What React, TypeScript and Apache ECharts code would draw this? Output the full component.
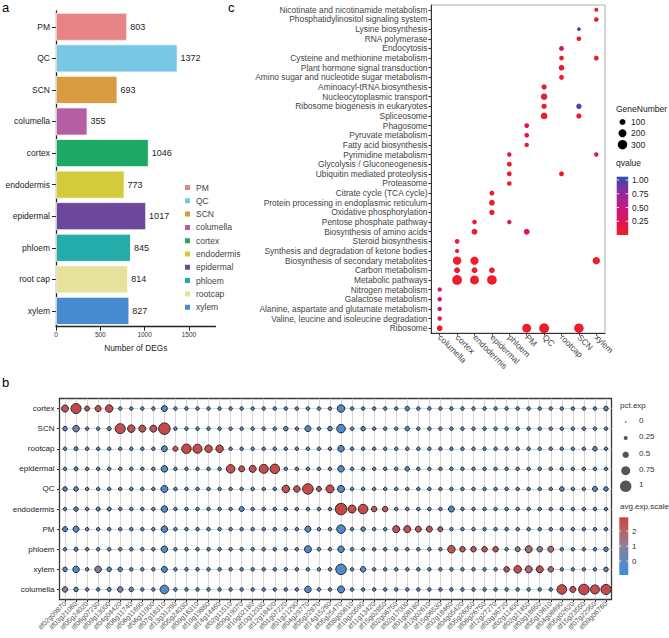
import { useEffect, useRef } from 'react';
import * as echarts from 'echarts';

const FONT = '"Liberation Sans", Arial, Helvetica, sans-serif';

// ---------------- Panel a: number of DEGs ----------------
const degCategories = ['PM', 'QC', 'SCN', 'columella', 'cortex', 'endodermis', 'epidermal', 'phloem', 'root cap', 'xylem'];
const degLegendNames = ['PM', 'QC', 'SCN', 'columella', 'cortex', 'endodermis', 'epidermal', 'phloem', 'rootcap', 'xylem'];
const degCounts = [803, 1372, 693, 355, 1046, 773, 1017, 845, 814, 827];
const degColors = ['#E88485', '#78C7E5', '#D89B40', '#B45EA3', '#1DA866', '#D3CB3B', '#6B489B', '#24ADA8', '#E6E29C', '#468BD0'];
const degTicks = [0, 500, 1000, 1500];

// ---------------- Panel c: KEGG enrichment ----------------
const keggCells = ['columella', 'cortex', 'endodermis', 'epidermal', 'phloem', 'PM', 'QC', 'rootcap', 'SCN', 'xylem'];
const keggPathways = [
  'Nicotinate and nicotinamide metabolism',
  'Phosphatidylinositol signaling system',
  'Lysine biosynthesis',
  'RNA polymerase',
  'Endocytosis',
  'Cysteine and methionine metabolism',
  'Plant hormone signal transduction',
  'Amino sugar and nucleotide sugar metabolism',
  'Aminoacyl-tRNA biosynthesis',
  'Nucleocytoplasmic transport',
  'Ribosome biogenesis in eukaryotes',
  'Spliceosome',
  'Phagosome',
  'Pyruvate metabolism',
  'Fatty acid biosynthesis',
  'Pyrimidine metabolism',
  'Glycolysis / Gluconeogenesis',
  'Ubiquitin mediated proteolysis',
  'Proteasome',
  'Citrate cycle (TCA cycle)',
  'Protein processing in endoplasmic reticulum',
  'Oxidative phosphorylation',
  'Pentose phosphate pathway',
  'Biosynthesis of amino acids',
  'Steroid biosynthesis',
  'Synthesis and degradation of ketone bodies',
  'Biosynthesis of secondary metabolites',
  'Carbon metabolism',
  'Metabolic pathways',
  'Nitrogen metabolism',
  'Galactose metabolism',
  'Alanine, aspartate and glutamate metabolism',
  'Valine, leucine and isoleucine degradation',
  'Ribosome',
];
// [pathway index, cell type, GeneNumber, qvalue]
const keggHits: [number, string, number, number][] = [
  [0, 'xylem', 25, 0.03],
  [1, 'xylem', 45, 0.03],
  [2, 'SCN', 20, 1.0],
  [3, 'SCN', 45, 0.04],
  [4, 'rootcap', 55, 0.33],
  [5, 'rootcap', 50, 0.03],
  [5, 'xylem', 55, 0.03],
  [6, 'rootcap', 85, 0.02],
  [7, 'rootcap', 60, 0.03],
  [8, 'QC', 70, 0.02],
  [9, 'QC', 120, 0.02],
  [10, 'QC', 70, 0.02],
  [10, 'SCN', 75, 0.97],
  [11, 'QC', 130, 0.02],
  [11, 'SCN', 70, 0.03],
  [12, 'PM', 50, 0.2],
  [13, 'PM', 50, 0.2],
  [14, 'PM', 40, 0.08],
  [15, 'phloem', 40, 0.2],
  [15, 'xylem', 40, 0.2],
  [16, 'phloem', 55, 0.05],
  [17, 'phloem', 55, 0.05],
  [17, 'rootcap', 60, 0.04],
  [18, 'phloem', 45, 0.05],
  [19, 'epidermal', 60, 0.03],
  [20, 'epidermal', 90, 0.02],
  [21, 'epidermal', 70, 0.03],
  [22, 'endodermis', 45, 0.04],
  [22, 'phloem', 40, 0.28],
  [23, 'endodermis', 95, 0.02],
  [23, 'PM', 95, 0.2],
  [24, 'cortex', 50, 0.03],
  [25, 'cortex', 35, 0.04],
  [26, 'cortex', 230, 0.01],
  [26, 'endodermis', 210, 0.01],
  [26, 'xylem', 170, 0.02],
  [27, 'cortex', 95, 0.02],
  [27, 'endodermis', 95, 0.02],
  [27, 'epidermal', 90, 0.02],
  [28, 'cortex', 320, 0.01],
  [28, 'endodermis', 260, 0.01],
  [28, 'epidermal', 310, 0.01],
  [29, 'columella', 40, 0.45],
  [30, 'columella', 40, 0.45],
  [31, 'columella', 40, 0.4],
  [32, 'columella', 40, 0.1],
  [33, 'columella', 90, 0.02],
  [33, 'PM', 260, 0.01],
  [33, 'QC', 330, 0.01],
  [33, 'SCN', 300, 0.01],
];
const geneLegendValues = [100, 200, 300];
const qLegendTicks = [0.25, 0.5, 0.75, 1.0];
const qMin = 0;
const qMax = 1.06;
const qColors = ['#EE1D27', '#DC1557', '#BF1B86', '#8A2E9C', '#2C4FAE'];

// ---------------- Panel b: marker gene dot plot ----------------
const markerRows = ['cortex', 'SCN', 'rootcap', 'epidermal', 'QC', 'endodermis', 'PM', 'phloem', 'xylem', 'columella'];
const markerGenes = [
  'itf02g09870', 'itf03g21060', 'itf05g24020', 'itf06g07230', 'itf09g13000',
  'itf04g04420', 'itf06g11740', 'itf06g11690', 'itf06g11900', 'itf07g18310',
  'itf13g31290', 'itf05g24030', 'itf09g16310', 'itf10g19860', 'itf14g14460',
  'itf02g11510', 'itf09g19070', 'itf10g02180', 'itf10g12030', 'itf12g18420',
  'itf01g07220', 'itf01g21290', 'itf04g29770', 'itf05g22870', 'itf14g15260',
  'itf05g25470', 'itf08g00610', 'itf10g20590', 'itf11g13420', 'itf15g02850',
  'itf02g06750', 'itf02g17000', 'itf01g08180', 'itf12g02610', 'itf15g06530',
  'itf02g18460', 'itf04g05420', 'itf05g26050', 'itf06g26750', 'itf12g27270',
  'itf03g36720', 'itf02g11400', 'itf02g21450', 'itf03g18650', 'itf05g19610',
  'itf04g08690', 'itf05g02620', 'itf15g23550', 'itf07g22950', 'itf09g06760',
];
const pctCortex = [0.55, 0.85, 0.35, 0.45, 0.6, 0.2, 0.2, 0.2, 0.2, 0.45, 0.2, 0.2, 0.2, 0.2, 0.2, 0.2, 0.2, 0.2, 0.2, 0.2, 0.2, 0.2, 0.2, 0.2, 0.2, 0.6, 0.2, 0.2, 0.2, 0.2, 0.2, 0.3, 0.2, 0.2, 0.2, 0.2, 0.2, 0.2, 0.2, 0.2, 0.2, 0.2, 0.2, 0.2, 0.2, 0.2, 0.2, 0.2, 0.2, 0.3];
const avgCortex = [2.5, 2.8, 2.4, 2.5, 2.6, -0.5, -0.5, -0.5, -0.5, -0.4, -0.5, -0.5, -0.5, -0.5, -0.5, -0.5, -0.5, -0.5, -0.5, -0.5, -0.5, -0.5, -0.5, -0.5, -0.5, -0.4, -0.5, -0.5, -0.5, -0.5, -0.5, -0.4, -0.5, -0.5, -0.5, -0.5, -0.5, -0.5, -0.5, -0.5, -0.5, -0.5, -0.5, -0.5, -0.5, -0.5, -0.5, -0.5, -0.5, -0.4];
const pctSCN = [0.3, 0.5, 0.2, 0.2, 0.25, 0.85, 0.6, 0.55, 0.55, 1.0, 0.2, 0.2, 0.2, 0.2, 0.2, 0.2, 0.2, 0.2, 0.2, 0.2, 0.3, 0.2, 0.45, 0.2, 0.3, 0.7, 0.2, 0.3, 0.2, 0.2, 0.2, 0.3, 0.2, 0.2, 0.2, 0.2, 0.2, 0.2, 0.2, 0.2, 0.2, 0.2, 0.2, 0.2, 0.2, 0.2, 0.2, 0.2, 0.2, 0.2];
const avgSCN = [-0.4, 0.3, -0.5, -0.5, -0.5, 2.6, 2.5, 2.5, 2.5, 2.7, -0.5, -0.5, -0.5, -0.5, -0.5, -0.5, -0.5, -0.5, -0.5, -0.5, -0.4, -0.5, -0.4, -0.5, -0.4, -0.4, -0.5, -0.4, -0.5, -0.5, -0.5, -0.4, -0.5, -0.5, -0.5, -0.5, -0.5, -0.5, -0.5, -0.5, -0.5, -0.5, -0.5, -0.5, -0.5, -0.5, -0.5, -0.5, -0.5, -0.5];
const pctRootcap = [0.2, 0.25, 0.2, 0.2, 0.2, 0.2, 0.2, 0.2, 0.2, 0.45, 0.35, 0.8, 0.75, 0.6, 0.6, 0.2, 0.2, 0.2, 0.2, 0.2, 0.2, 0.2, 0.2, 0.2, 0.2, 0.5, 0.2, 0.2, 0.2, 0.2, 0.2, 0.2, 0.2, 0.2, 0.2, 0.2, 0.2, 0.2, 0.2, 0.2, 0.2, 0.2, 0.2, 0.2, 0.2, 0.2, 0.2, 0.2, 0.3, 0.2];
const avgRootcap = [-0.5, -0.5, -0.5, -0.5, -0.5, -0.5, -0.5, -0.5, -0.5, -0.4, 2.4, 2.7, 2.6, 2.5, 2.6, -0.5, -0.5, -0.5, -0.5, -0.5, -0.5, -0.5, -0.5, -0.5, -0.5, -0.4, -0.5, -0.5, -0.5, -0.5, -0.5, -0.5, -0.5, -0.5, -0.5, -0.5, -0.5, -0.5, -0.5, -0.5, -0.5, -0.5, -0.5, -0.5, -0.5, -0.5, -0.5, -0.5, -0.4, -0.5];
const pctEpidermal = [0.2, 0.25, 0.2, 0.2, 0.2, 0.2, 0.2, 0.2, 0.2, 0.5, 0.2, 0.2, 0.2, 0.2, 0.2, 0.7, 0.45, 0.55, 0.75, 0.8, 0.2, 0.2, 0.2, 0.2, 0.2, 0.5, 0.2, 0.2, 0.2, 0.2, 0.2, 0.3, 0.2, 0.2, 0.2, 0.2, 0.2, 0.2, 0.2, 0.2, 0.2, 0.2, 0.2, 0.2, 0.2, 0.2, 0.2, 0.2, 0.2, 0.2];
const avgEpidermal = [-0.5, -0.5, -0.5, -0.5, -0.5, -0.5, -0.5, -0.5, -0.5, -0.4, -0.5, -0.5, -0.5, -0.5, -0.5, 2.6, 2.4, 2.5, 2.7, 2.7, -0.5, -0.5, -0.5, -0.5, -0.5, -0.4, -0.5, -0.5, -0.5, -0.5, -0.5, -0.4, -0.5, -0.5, -0.5, -0.5, -0.5, -0.5, -0.5, -0.5, -0.5, -0.5, -0.5, -0.5, -0.5, -0.5, -0.5, -0.5, -0.5, -0.5];
const pctQC = [0.3, 0.3, 0.2, 0.2, 0.2, 0.2, 0.2, 0.2, 0.2, 0.55, 0.2, 0.2, 0.2, 0.2, 0.2, 0.2, 0.2, 0.2, 0.2, 0.2, 0.6, 0.5, 0.9, 0.35, 0.65, 0.55, 0.2, 0.2, 0.2, 0.2, 0.2, 0.2, 0.2, 0.2, 0.2, 0.2, 0.2, 0.2, 0.2, 0.2, 0.2, 0.2, 0.2, 0.2, 0.2, 0.3, 0.2, 0.2, 0.35, 0.3];
const avgQC = [-0.4, -0.4, -0.5, -0.5, -0.5, -0.5, -0.5, -0.5, -0.5, -0.4, -0.5, -0.5, -0.5, -0.5, -0.5, -0.5, -0.5, -0.5, -0.5, -0.5, 2.5, 2.5, 2.7, 2.3, 2.6, -0.4, -0.5, -0.5, -0.5, -0.5, -0.5, -0.5, -0.5, -0.5, -0.5, -0.5, -0.5, -0.5, -0.5, -0.5, -0.5, -0.5, -0.5, -0.5, -0.5, -0.4, -0.5, -0.5, -0.4, -0.4];
const pctEndodermis = [0.2, 0.3, 0.2, 0.25, 0.25, 0.2, 0.2, 0.2, 0.2, 0.5, 0.2, 0.2, 0.2, 0.2, 0.2, 0.2, 0.35, 0.2, 0.2, 0.2, 0.2, 0.2, 0.2, 0.2, 0.2, 1.0, 0.65, 0.8, 0.4, 0.4, 0.2, 0.2, 0.2, 0.2, 0.2, 0.45, 0.2, 0.2, 0.2, 0.2, 0.2, 0.2, 0.2, 0.2, 0.2, 0.2, 0.2, 0.2, 0.2, 0.2];
const avgEndodermis = [-0.5, -0.4, -0.5, -0.5, -0.5, -0.5, -0.5, -0.5, -0.5, -0.4, -0.5, -0.5, -0.5, -0.5, -0.5, -0.5, -0.4, -0.5, -0.5, -0.5, -0.5, -0.5, -0.5, -0.5, -0.5, 2.8, 2.6, 2.7, 2.4, 2.4, -0.5, -0.5, -0.5, -0.5, -0.5, -0.3, -0.5, -0.5, -0.5, -0.5, -0.5, -0.5, -0.5, -0.5, -0.5, -0.5, -0.5, -0.5, -0.5, -0.5];
const pctPM = [0.35, 0.45, 0.2, 0.2, 0.2, 0.2, 0.2, 0.2, 0.2, 0.5, 0.2, 0.2, 0.2, 0.2, 0.2, 0.2, 0.2, 0.2, 0.2, 0.2, 0.2, 0.2, 0.45, 0.2, 0.2, 0.7, 0.2, 0.3, 0.2, 0.2, 0.55, 0.55, 0.45, 0.45, 0.35, 0.2, 0.2, 0.2, 0.2, 0.2, 0.2, 0.2, 0.2, 0.2, 0.2, 0.2, 0.2, 0.2, 0.2, 0.2];
const avgPM = [-0.4, -0.4, -0.5, -0.5, -0.5, -0.5, -0.5, -0.5, -0.5, -0.4, -0.5, -0.5, -0.5, -0.5, -0.5, -0.5, -0.5, -0.5, -0.5, -0.5, -0.5, -0.5, -0.4, -0.5, -0.5, -0.4, -0.5, -0.4, -0.5, -0.5, 2.5, 2.5, 2.4, 2.4, 2.3, -0.5, -0.5, -0.5, -0.5, -0.5, -0.5, -0.5, -0.5, -0.5, -0.5, -0.5, -0.5, -0.5, -0.5, -0.5];
const pctPhloem = [0.2, 0.25, 0.2, 0.2, 0.2, 0.2, 0.2, 0.2, 0.2, 0.5, 0.2, 0.2, 0.2, 0.2, 0.2, 0.2, 0.2, 0.2, 0.2, 0.2, 0.2, 0.2, 0.55, 0.2, 0.2, 0.5, 0.2, 0.2, 0.2, 0.2, 0.2, 0.2, 0.2, 0.2, 0.2, 0.6, 0.4, 0.4, 0.4, 0.4, 0.2, 0.35, 0.55, 0.4, 0.45, 0.2, 0.2, 0.2, 0.2, 0.3];
const avgPhloem = [-0.5, -0.5, -0.5, -0.5, -0.5, -0.5, -0.5, -0.5, -0.5, -0.4, -0.5, -0.5, -0.5, -0.5, -0.5, -0.5, -0.5, -0.5, -0.5, -0.5, -0.5, -0.5, -0.4, -0.5, -0.5, -0.4, -0.5, -0.5, -0.5, -0.5, -0.5, -0.5, -0.5, -0.5, -0.5, 2.5, 2.4, 2.4, 2.4, 2.4, -0.5, 0.9, 1.7, 0.9, 1.8, -0.5, -0.5, -0.5, -0.5, -0.4];
const pctXylem = [0.3, 0.5, 0.2, 0.5, 0.3, 0.3, 0.2, 0.2, 0.2, 0.45, 0.2, 0.2, 0.2, 0.2, 0.2, 0.2, 0.2, 0.2, 0.2, 0.2, 0.2, 0.2, 0.2, 0.2, 0.2, 0.9, 0.2, 0.4, 0.2, 0.2, 0.2, 0.2, 0.2, 0.2, 0.2, 0.2, 0.2, 0.2, 0.2, 0.2, 0.4, 0.6, 0.55, 0.55, 0.4, 0.2, 0.2, 0.2, 0.2, 0.3];
const avgXylem = [-0.4, -0.4, -0.5, 0.8, -0.4, -0.4, -0.5, -0.5, -0.5, -0.4, -0.5, -0.5, -0.5, -0.5, -0.5, -0.5, -0.5, -0.5, -0.5, -0.5, -0.5, -0.5, -0.5, -0.5, -0.5, -0.4, -0.5, -0.4, -0.5, -0.5, -0.5, -0.5, -0.5, -0.5, -0.5, -0.5, -0.5, -0.5, -0.5, -0.5, 2.4, 2.6, 1.7, 2.5, 1.9, -0.5, -0.5, -0.5, -0.5, -0.4];
const pctColumella = [0.4, 0.3, 0.2, 0.2, 0.25, 0.4, 0.3, 0.2, 0.2, 0.7, 0.2, 0.2, 0.2, 0.2, 0.2, 0.2, 0.2, 0.2, 0.2, 0.2, 0.2, 0.2, 0.5, 0.2, 0.2, 0.55, 0.2, 0.2, 0.2, 0.2, 0.2, 0.2, 0.2, 0.2, 0.2, 0.2, 0.2, 0.2, 0.2, 0.2, 0.2, 0.2, 0.2, 0.2, 0.2, 0.8, 0.45, 0.9, 0.75, 0.85];
const avgColumella = [0.8, -0.4, -0.5, -0.5, -0.5, 0.4, 0.3, -0.5, -0.5, -0.4, -0.5, -0.5, -0.5, -0.5, -0.5, -0.5, -0.5, -0.5, -0.5, -0.5, -0.5, -0.5, -0.4, -0.5, -0.5, -0.4, -0.5, -0.5, -0.5, -0.5, -0.5, -0.5, -0.5, -0.5, -0.5, -0.5, -0.5, -0.5, -0.5, -0.5, -0.5, -0.5, -0.5, -0.5, -0.5, 2.6, 2.5, 2.7, 2.6, 2.7];
const pctExpRows = [pctCortex, pctSCN, pctRootcap, pctEpidermal, pctQC, pctEndodermis, pctPM, pctPhloem, pctXylem, pctColumella];
const avgExpRows = [avgCortex, avgSCN, avgRootcap, avgEpidermal, avgQC, avgEndodermis, avgPM, avgPhloem, avgXylem, avgColumella];
const pctLegendValues = [0, 0.25, 0.5, 0.75, 1];
const pctLegendLabels = ['0', '0.25', '0.5', '0.75', '1'];
const expLegendTicks = [2, 1, 0];
const expMin = -0.93;
const expMax = 2.92;
const expColors = ['#3B8EDB', '#5E88BF', '#8E7F95', '#B3646A', '#CC4242'];

function geneSize(n: number) {
  return Math.sqrt(9 + 0.27 * n);
}
function pctSize(p: number) {
  return 1.5 + 10 * p;
}

function txt(text: string, x: number, y: number, size: number, color = '#222', align = 'left') {
  return {
    type: 'text',
    x,
    y,
    silent: true,
    style: { text, fill: color, fontSize: size, fontFamily: FONT, align, verticalAlign: 'middle' },
  };
}

export default function App() {
  const ref = useRef<HTMLDivElement>(null);

  useEffect(() => {
    const chart = echarts.init(ref.current!, null, { renderer: 'svg' });

    const barSeries = degLegendNames.map((name, i) => ({
      type: 'bar',
      name,
      xAxisIndex: 0,
      yAxisIndex: 0,
      stack: 'deg',
      barWidth: 28,
      data: degCounts.map((v, j) => (j === i ? v : '-')),
      itemStyle: { color: degColors[i], borderColor: '#ffffff', borderWidth: 0.8 },
      label: { show: true, position: 'right', distance: 3, fontSize: 9, color: '#222', fontFamily: FONT },
    }));

    const keggData = keggHits.map((h) => [h[1], keggPathways[h[0]], h[2], h[3]]);
    const markerData: any[] = [];
    markerRows.forEach((_, r) => {
      markerGenes.forEach((_g, c) => {
        markerData.push([c, r, pctExpRows[r][c], avgExpRows[r][c]]);
      });
    });

    const graphics: any[] = [
      txt('a', 2, 7.5, 13, '#000'),
      txt('c', 228, 7.5, 13, '#000'),
      txt('b', 2, 382, 13, '#000'),
      txt('GeneNumber', 616, 109, 8.5, '#222'),
      txt('qvalue', 616, 163, 8.5, '#222'),
      txt('pct.exp', 620, 405, 8, '#333'),
      txt('avg.exp.scale', 620, 506.5, 8, '#333'),
    ];
    const geneYs = [122, 133.3, 144.7];
    geneLegendValues.forEach((v, i) => {
      graphics.push({
        type: 'circle',
        silent: true,
        shape: { cx: 622.5, cy: geneYs[i], r: geneSize(v) / 2 },
        style: { fill: '#000' },
      });
      graphics.push(txt(String(v), 631, geneYs[i], 8.5, '#222'));
    });
    const qBar = { x: 616.7, y: 176.7, w: 11.5, h: 58.3 };
    graphics.push({
      type: 'rect',
      silent: true,
      shape: { x: qBar.x, y: qBar.y, width: qBar.w, height: qBar.h },
      style: {
        fill: new echarts.graphic.LinearGradient(
          0, 0, 0, 1,
          qColors.slice().reverse().map((c, i) => ({ offset: i / (qColors.length - 1), color: c }))
        ),
      },
    });
    qLegendTicks.forEach((t) => {
      const y = qBar.y + qBar.h - ((t - qMin) / (qMax - qMin)) * qBar.h;
      graphics.push({ type: 'line', silent: true, shape: { x1: qBar.x, y1: y, x2: qBar.x + 2.5, y2: y }, style: { stroke: '#fff', lineWidth: 0.8 } });
      graphics.push({ type: 'line', silent: true, shape: { x1: qBar.x + qBar.w - 2.5, y1: y, x2: qBar.x + qBar.w, y2: y }, style: { stroke: '#fff', lineWidth: 0.8 } });
      graphics.push(txt(t.toFixed(2), 632, y, 8.5, '#222'));
    });
    const pctYs = [422, 438, 454.7, 470.7, 486.3];
    pctLegendValues.forEach((v, i) => {
      graphics.push({
        type: 'circle',
        silent: true,
        shape: { cx: 625.7, cy: pctYs[i], r: pctSize(v) / 2 },
        style: { fill: '#555' },
      });
      graphics.push(txt(pctLegendLabels[i], 639, pctYs[i] - 1.5, 8, '#333'));
    });
    const eBar = { x: 619.3, y: 517.3, w: 9, h: 57.7 };
    graphics.push({
      type: 'rect',
      silent: true,
      shape: { x: eBar.x, y: eBar.y, width: eBar.w, height: eBar.h },
      style: {
        fill: new echarts.graphic.LinearGradient(
          0, 0, 0, 1,
          expColors.slice().reverse().map((c, i) => ({ offset: i / (expColors.length - 1), color: c }))
        ),
      },
    });
    expLegendTicks.forEach((t) => {
      const y = eBar.y + eBar.h - ((t - expMin) / (expMax - expMin)) * eBar.h;
      graphics.push({ type: 'line', silent: true, shape: { x1: eBar.x, y1: y, x2: eBar.x + 2, y2: y }, style: { stroke: '#fff', lineWidth: 0.8 } });
      graphics.push({ type: 'line', silent: true, shape: { x1: eBar.x + eBar.w - 2, y1: y, x2: eBar.x + eBar.w, y2: y }, style: { stroke: '#fff', lineWidth: 0.8 } });
      graphics.push(txt(String(t), 632, y, 8, '#333'));
    });

    const option: any = {
      animation: false,
      backgroundColor: '#ffffff',
      textStyle: { fontFamily: FONT },
      legend: {
        data: degLegendNames,
        orient: 'vertical',
        left: 183,
        top: 182.5,
        padding: 0,
        itemWidth: 7,
        itemHeight: 7,
        itemGap: 3.3,
        icon: 'rect',
        selectedMode: false,
        textStyle: { fontSize: 8.5, color: '#444', fontFamily: FONT, lineHeight: 10 },
      },
      grid: [
        { left: 56, top: 11, width: 159.5, height: 315.7 },
        { left: 431, top: 5, width: 174, height: 328, show: true, borderColor: '#999', borderWidth: 0.8, backgroundColor: 'transparent' },
        { left: 59.5, top: 398.5, width: 552, height: 201, show: true, borderColor: '#3a3a3a', borderWidth: 1.3, backgroundColor: 'transparent' },
      ],
      xAxis: [
        {
          gridIndex: 0,
          type: 'value',
          min: 0,
          max: 1800,
          axisLine: { show: true, lineStyle: { color: '#222', width: 1.3 } },
          axisTick: { show: true, length: 4, lineStyle: { color: '#222', width: 1 }, customValues: degTicks },
          axisLabel: { fontSize: 6.5, color: '#333', margin: 4, customValues: degTicks, fontFamily: FONT, formatter: (v: number) => String(v) },
          splitLine: { show: false },
          name: 'Number of DEGs',
          nameLocation: 'middle',
          nameGap: 17,
          nameTextStyle: { fontSize: 8.3, color: '#222', fontFamily: FONT },
        },
        {
          gridIndex: 1,
          type: 'category',
          data: keggCells,
          axisLine: { show: true, lineStyle: { color: '#333', width: 1 } },
          axisTick: { show: true, length: 2.5, alignWithLabel: true, lineStyle: { color: '#333' } },
          axisLabel: { rotate: -45, fontSize: 8.5, color: '#444', margin: 3, interval: 0, fontFamily: FONT },
          splitLine: { show: false },
        },
        {
          gridIndex: 2,
          type: 'category',
          data: markerGenes,
          axisLine: { show: false },
          axisTick: { show: true, length: 2.5, alignWithLabel: true, interval: 0, lineStyle: { color: '#333' } },
          axisLabel: { rotate: 45, fontSize: 7, color: '#555', margin: 3, interval: 0, fontFamily: FONT },
          splitLine: { show: true, alignWithLabel: true, interval: 0, lineStyle: { color: '#d4d4d4', width: 0.9 } },
        },
      ],
      yAxis: [
        {
          gridIndex: 0,
          type: 'category',
          data: degCategories,
          inverse: true,
          axisLine: { show: true, lineStyle: { color: '#222', width: 1.3 } },
          axisTick: { show: true, length: 4, alignWithLabel: true, lineStyle: { color: '#222', width: 1 } },
          axisLabel: { fontSize: 8.5, color: '#222', margin: 6, interval: 0, fontFamily: FONT },
          splitLine: { show: false },
        },
        {
          gridIndex: 1,
          type: 'category',
          data: keggPathways,
          inverse: true,
          axisLine: { show: true, lineStyle: { color: '#333', width: 1 } },
          axisTick: { show: true, length: 2.5, alignWithLabel: true, lineStyle: { color: '#333' } },
          axisLabel: { fontSize: 8.4, color: '#444', margin: 3.5, interval: 0, fontFamily: FONT },
          splitLine: { show: false },
        },
        {
          gridIndex: 2,
          type: 'category',
          data: markerRows,
          inverse: true,
          axisLine: { show: false },
          axisTick: { show: true, length: 2.5, alignWithLabel: true, lineStyle: { color: '#333' } },
          axisLabel: { fontSize: 8, color: '#222', margin: 5, interval: 0, fontFamily: FONT },
          splitLine: { show: true, alignWithLabel: true, interval: 0, lineStyle: { color: '#d4d4d4', width: 0.9 } },
        },
      ],
      visualMap: [
        { type: 'continuous', show: false, seriesIndex: 10, dimension: 3, min: qMin, max: qMax, inRange: { color: qColors } },
        { type: 'continuous', show: false, seriesIndex: 11, dimension: 3, min: expMin, max: expMax, inRange: { color: expColors } },
      ],
      series: [
        ...barSeries,
        {
          type: 'scatter',
          name: 'kegg',
          xAxisIndex: 1,
          yAxisIndex: 1,
          data: keggData,
          symbolSize: (v: any) => geneSize(v[2]),
          itemStyle: { opacity: 1 },
        },
        {
          type: 'scatter',
          name: 'markers',
          xAxisIndex: 2,
          yAxisIndex: 2,
          data: markerData,
          symbolSize: (v: any) => pctSize(v[2]),
          itemStyle: { borderColor: '#262626', borderWidth: 1, opacity: 1 },
          z: 3,
        },
      ],
      graphic: graphics,
    };

    chart.setOption(option);
    return () => chart.dispose();
  }, []);

  return (
    <div
      ref={ref}
      style={{ position: 'fixed', left: 0, top: 0, width: 669, height: 638, background: '#fff' }}
    />
  );
}
